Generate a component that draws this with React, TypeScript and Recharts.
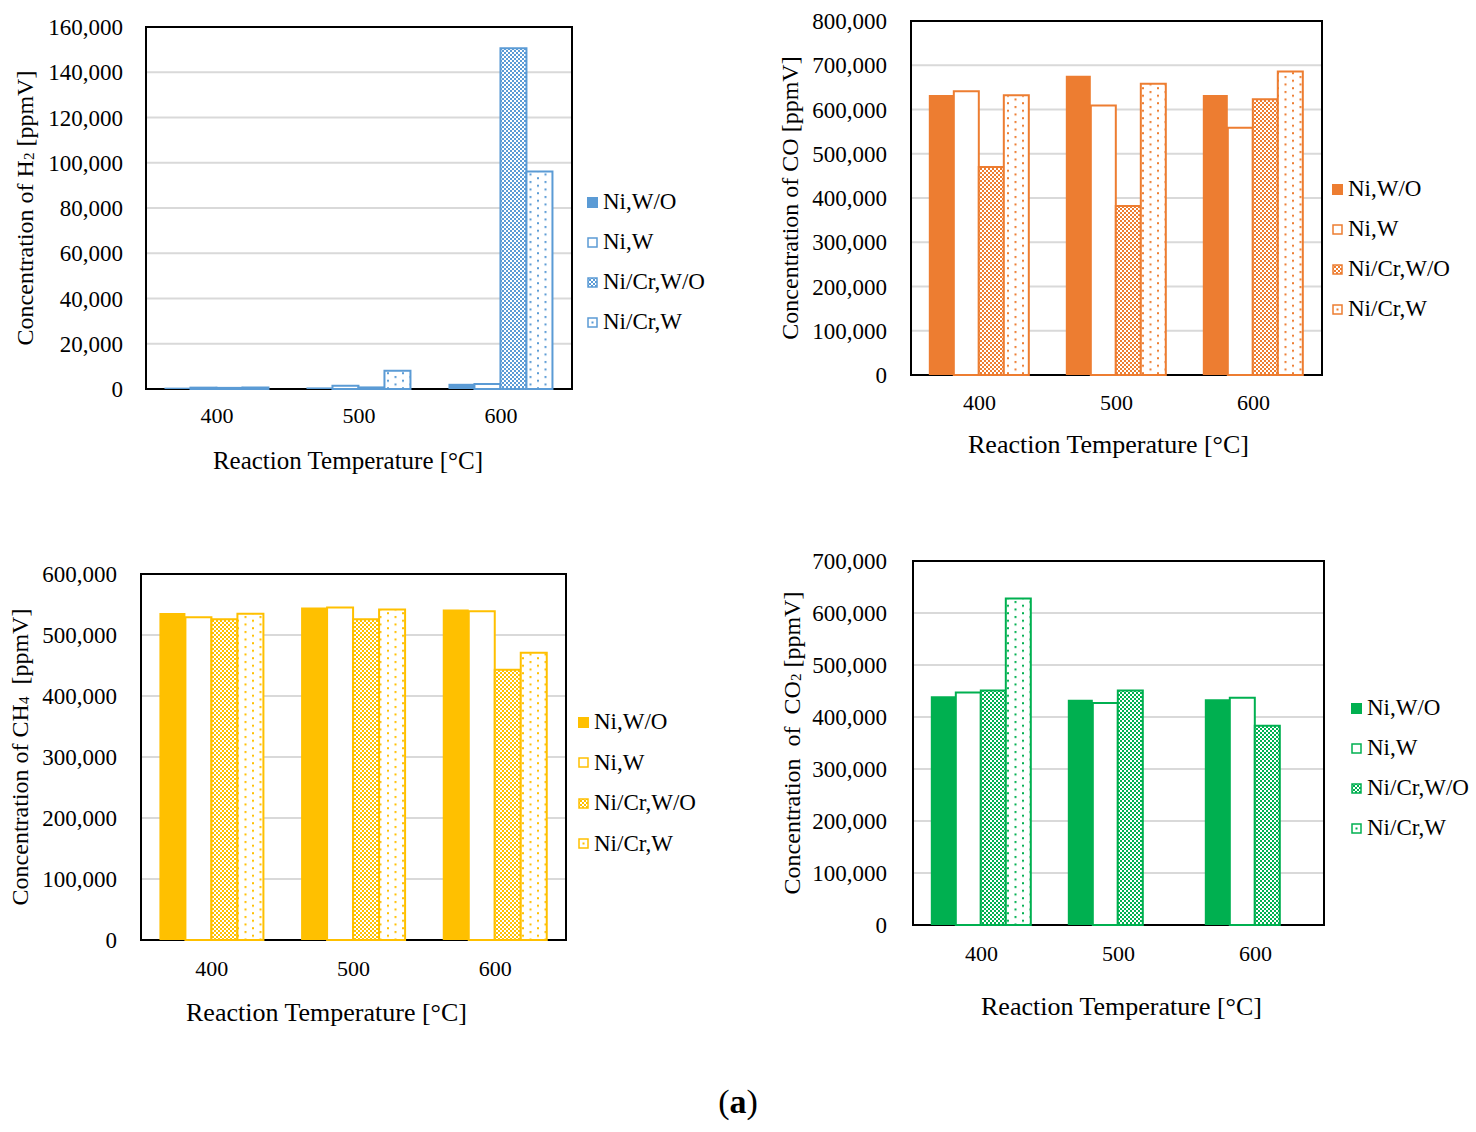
import * as React from "react";
import {
  BarChart,
  Bar,
  XAxis,
  YAxis,
  CartesianGrid,
  ReferenceArea,
  Legend,
} from "recharts";

const FONT = '"Liberation Serif", "Times New Roman", serif';

const CATEGORIES = ["400", "500", "600"];
const SERIES_NAMES = ["Ni,W/O", "Ni,W", "Ni/Cr,W/O", "Ni/Cr,W"];

// H2 [ppmV]
const H2_NI_WO = [600, 700, 2300];
const H2_NI_W = [600, 1400, 2200];
const H2_NICR_WO = [500, 700, 150600];
const H2_NICR_W = [650, 8100, 96100];
const H2_TICKS = [0, 20000, 40000, 60000, 80000, 100000, 120000, 140000, 160000];

// CO [ppmV]
const CO_NI_WO = [633000, 676000, 633000];
const CO_NI_W = [641000, 609000, 559000];
const CO_NICR_WO = [470000, 382000, 623000];
const CO_NICR_W = [632000, 658000, 686000];
const CO_TICKS = [0, 100000, 200000, 300000, 400000, 500000, 600000, 700000, 800000];

// CH4 [ppmV]
const CH4_NI_WO = [536000, 545000, 542000];
const CH4_NI_W = [529000, 545000, 539000];
const CH4_NICR_WO = [526000, 526000, 443000];
const CH4_NICR_W = [535000, 542000, 471000];
const CH4_TICKS = [0, 100000, 200000, 300000, 400000, 500000, 600000];

// CO2 [ppmV]
const CO2_NI_WO = [440000, 433000, 434000];
const CO2_NI_W = [447000, 427000, 437000];
const CO2_NICR_WO = [451000, 451000, 383000];
const CO2_NICR_W = [628000, null, null];
const CO2_TICKS = [0, 100000, 200000, 300000, 400000, 500000, 600000, 700000];

const BLUE = "#5B9BD5";
const ORANGE = "#ED7D31";
const YELLOW = "#FFC000";
const GREEN = "#00B050";

const X_AXIS_H = 100;

interface PanelProps {
  id: string;
  color: string;
  values: Array<Array<number | null>>;
  ticks: number[];
  yTitle: React.ReactNode;
  left: number;
  top: number;
  width: number;
  height: number;
  plot: { x1: number; y1: number; x2: number; y2: number }; // page coords
  yTickGap: number;
  xTickGap: number;
  yTitleX: number;
  xTitleDy: number;
  xTitleDx: number;
  xTitleSize: number;
  legendX: number;
  legendY: number;
  legendGap: number;
}

function Panel(p: PanelProps) {
  const data = CATEGORIES.map((cat, i) => ({
    cat,
    s0: p.values[0][i],
    s1: p.values[1][i],
    s2: p.values[2][i],
    s3: p.values[3][i],
  }));
  const yMax = p.ticks[p.ticks.length - 1];
  const chk = `chk-${p.id}`;
  const dot = `dot-${p.id}`;
  const bottom = p.top + p.height - p.plot.y2 - X_AXIS_H;

  const icon = (i: number) => {
    if (i === 0) return <rect x={0} y={0} width={11} height={11} fill={p.color} />;
    if (i === 1)
      return <rect x={1} y={1} width={9} height={9} fill="#fff" stroke={p.color} strokeWidth={1.5} />;
    if (i === 2)
      return <rect x={1} y={1} width={9} height={9} fill={`url(#${chk})`} stroke={p.color} strokeWidth={1.5} />;
    return (
      <g>
        <rect x={1} y={1} width={9} height={9} fill="#fff" stroke={p.color} strokeWidth={1.5} />
        <rect x={4.5} y={4.5} width={2} height={2} fill={p.color} />
      </g>
    );
  };

  const renderLegend = () => (
    <div style={{ fontFamily: FONT, fontSize: 23, color: "#000" }}>
      {SERIES_NAMES.map((name, i) => (
        <div
          key={name}
          style={{ display: "flex", alignItems: "center", height: p.legendGap, whiteSpace: "nowrap" }}
        >
          <svg width={11} height={11} style={{ marginRight: 5, overflow: "visible" }}>
            {icon(i)}
          </svg>
          <span>{name}</span>
        </div>
      ))}
    </div>
  );

  return (
    <div style={{ position: "absolute", left: p.left, top: p.top }}>
      <BarChart
        width={p.width}
        height={p.height}
        data={data}
        margin={{
          top: p.plot.y1 - p.top,
          right: p.left + p.width - p.plot.x2,
          left: 0,
          bottom,
        }}
        barCategoryGap="13%"
        barGap={0}
      >
        <defs>
          <pattern id={chk} width={4} height={4} patternUnits="userSpaceOnUse">
            <rect width={4} height={4} fill="#fff" />
            <rect width={2} height={2} fill={p.color} />
            <rect x={2} y={2} width={2} height={2} fill={p.color} />
          </pattern>
          <pattern id={dot} width={15} height={7.5} patternUnits="userSpaceOnUse">
            <rect width={15} height={7.5} fill="#fff" />
            <rect x={4.5} y={1} width={2} height={2} fill={p.color} />
            <rect x={12} y={4.75} width={2} height={2} fill={p.color} />
          </pattern>
        </defs>
        <CartesianGrid vertical={false} stroke="#D9D9D9" strokeWidth={2} />
        <XAxis
          dataKey="cat"
          height={X_AXIS_H}
          axisLine={false}
          tickLine={false}
          tickSize={0}
          tickMargin={p.xTickGap}
          tick={{ fill: "#000", fontSize: 22, fontFamily: FONT }}
          label={(lp: any) => {
            const vb = lp.viewBox;
            return (
              <text
                x={vb.x + vb.width / 2 + p.xTitleDx}
                y={vb.y + p.xTitleDy}
                textAnchor="middle"
                dominantBaseline="central"
                fontFamily={FONT}
                fontSize={p.xTitleSize}
                fill="#000"
              >
                Reaction Temperature [°C]
              </text>
            );
          }}
        />
        <YAxis
          width={p.plot.x1 - p.left}
          domain={[0, yMax]}
          ticks={p.ticks}
          interval={0}
          axisLine={false}
          tickLine={false}
          tickSize={0}
          tickMargin={p.yTickGap}
          tick={{ fill: "#000", fontSize: 23, fontFamily: FONT }}
          tickFormatter={(v: number) => v.toLocaleString("en-US")}
          label={(lp: any) => {
            const vb = lp.viewBox;
            const cx = p.yTitleX - p.left;
            const cy = vb.y + vb.height / 2;
            return (
              <text
                x={cx}
                y={cy}
                transform={`rotate(-90, ${cx}, ${cy})`}
                textAnchor="middle"
                dominantBaseline="central"
                fontFamily={FONT}
                fontSize={24}
                fill="#000"
              >
                {p.yTitle}
              </text>
            );
          }}
        />
        <Bar dataKey="s0" name={SERIES_NAMES[0]} fill={p.color} isAnimationActive={false} />
        <Bar
          dataKey="s1"
          name={SERIES_NAMES[1]}
          fill="#fff"
          stroke={p.color}
          strokeWidth={2}
          isAnimationActive={false}
        />
        <Bar
          dataKey="s2"
          name={SERIES_NAMES[2]}
          fill={`url(#${chk})`}
          stroke={p.color}
          strokeWidth={2}
          isAnimationActive={false}
        />
        <Bar
          dataKey="s3"
          name={SERIES_NAMES[3]}
          fill={`url(#${dot})`}
          stroke={p.color}
          strokeWidth={2}
          isAnimationActive={false}
        />
        <ReferenceArea
          y1={0}
          y2={yMax}
          fill="none"
          fillOpacity={0}
          stroke="#000"
          strokeWidth={2}
          ifOverflow="visible"
        />
        <Legend
          layout="horizontal"
          align="center"
          verticalAlign="middle"
          content={renderLegend}
          wrapperStyle={{
            left: p.legendX - p.left,
            top: p.legendY - p.legendGap / 2 - p.top,
            width: "auto",
            height: "auto",
          }}
        />
      </BarChart>
    </div>
  );
}

export default function App() {
  return (
    <div
      style={{
        position: "absolute",
        left: 0,
        top: 0,
        width: 1476,
        height: 1132,
        background: "#fff",
        fontFamily: FONT,
      }}
    >
      <Panel
        id="h2"
        color={BLUE}
        values={[H2_NI_WO, H2_NI_W, H2_NICR_WO, H2_NICR_W]}
        ticks={H2_TICKS}
        yTitle={
          <>
            <tspan>Concentration of H</tspan>
            <tspan dy={4} fontSize={15}>2</tspan>
            <tspan dy={-4}> [ppmV]</tspan>
          </>
        }
        left={0}
        top={0}
        width={740}
        height={500}
        plot={{ x1: 146, y1: 27, x2: 572, y2: 389 }}
        yTickGap={23}
        xTickGap={18}
        yTitleX={25}
        xTitleDy={71}
        xTitleDx={-11}
        xTitleSize={25}
        legendX={587}
        legendY={202}
        legendGap={40}
      />
      <Panel
        id="co"
        color={ORANGE}
        values={[CO_NI_WO, CO_NI_W, CO_NICR_WO, CO_NICR_W]}
        ticks={CO_TICKS}
        yTitle={<tspan>Concentration of CO [ppmV]</tspan>}
        left={740}
        top={0}
        width={736}
        height={500}
        plot={{ x1: 911, y1: 21, x2: 1322, y2: 375 }}
        yTickGap={24}
        xTickGap={19}
        yTitleX={790}
        xTitleDy={69}
        xTitleDx={-8}
        xTitleSize={26}
        legendX={1332}
        legendY={189}
        legendGap={40}
      />
      <Panel
        id="ch4"
        color={YELLOW}
        values={[CH4_NI_WO, CH4_NI_W, CH4_NICR_WO, CH4_NICR_W]}
        ticks={CH4_TICKS}
        yTitle={
          <>
            <tspan>Concentration of CH</tspan>
            <tspan dy={4} fontSize={15}>4</tspan>
            <tspan dy={-4}>{"\u00a0 [ppmV]"}</tspan>
          </>
        }
        left={0}
        top={540}
        width={740}
        height={540}
        plot={{ x1: 141, y1: 574, x2: 566, y2: 940 }}
        yTickGap={24}
        xTickGap={20}
        yTitleX={20}
        xTitleDy={72}
        xTitleDx={-27}
        xTitleSize={26}
        legendX={578}
        legendY={722}
        legendGap={40.5}
      />
      <Panel
        id="co2"
        color={GREEN}
        values={[CO2_NI_WO, CO2_NI_W, CO2_NICR_WO, CO2_NICR_W]}
        ticks={CO2_TICKS}
        yTitle={
          <>
            <tspan>{"Concentration\u00a0 of\u00a0 CO"}</tspan>
            <tspan dy={4} fontSize={15}>2</tspan>
            <tspan dy={-4}> [ppmV]</tspan>
          </>
        }
        left={740}
        top={540}
        width={736}
        height={540}
        plot={{ x1: 913, y1: 561, x2: 1324, y2: 925 }}
        yTickGap={26}
        xTickGap={20}
        yTitleX={792}
        xTitleDy={81}
        xTitleDx={3}
        xTitleSize={26}
        legendX={1351}
        legendY={708}
        legendGap={40}
      />
      <div
        style={{
          position: "absolute",
          left: 0,
          top: 1082,
          width: 1476,
          textAlign: "center",
          fontSize: 34,
          lineHeight: "40px",
          color: "#000",
        }}
      >
        <span style={{ fontWeight: 400 }}>(</span>
        <b>a</b>
        <span style={{ fontWeight: 400 }}>)</span>
      </div>
    </div>
  );
}
